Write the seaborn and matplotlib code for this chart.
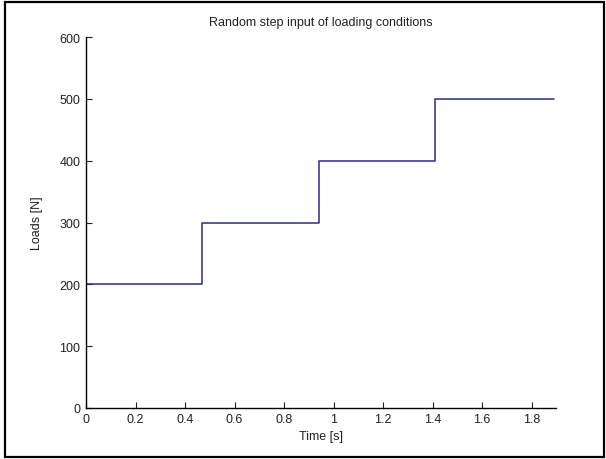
import pandas as pd
import seaborn as sns
import matplotlib.pyplot as plt
from matplotlib.patches import Rectangle

# step input data
tiempos = [0, 0.47, 0.94, 1.41, 1.89]
cargas = [200, 300, 400, 500, 500]
xticks = [0, 0.2, 0.4, 0.6, 0.8, 1, 1.2, 1.4, 1.6, 1.8]
yticks = [0, 100, 200, 300, 400, 500, 600]

sns.set_style("ticks")
plt.rcParams['font.family'] = ['Liberation Sans', 'DejaVu Sans']

df = pd.DataFrame({"t": tiempos, "carga": cargas})

fig = plt.figure(figsize=(6.06, 4.6), dpi=100)
ax = fig.add_axes([0.142, 0.111, 0.776, 0.806])

sns.lineplot(data=df, x="t", y="carga", drawstyle="steps-post",
             color="#2b2b8c", linewidth=1.1, ax=ax)

ax.set_xlim(0, 1.9)
ax.set_ylim(0, 600)
ax.set_xticks(xticks)
ax.set_xticklabels(["0", "0.2", "0.4", "0.6", "0.8", "1", "1.2", "1.4", "1.6", "1.8"])
ax.set_yticks(yticks)
ax.tick_params(direction="in", length=4, labelsize=9, colors="#222222", pad=4)
sns.despine(ax=ax)
for s in ["left", "bottom"]:
    ax.spines[s].set_color("black")
    ax.spines[s].set_linewidth(1)

ax.set_xlabel("Time [s]", fontsize=9, labelpad=3, color="#222222")
ax.set_ylabel("Loads [N]", fontsize=9, labelpad=12, color="#222222")
ax.set_title("Random step input of loading conditions", fontsize=9, pad=9, color="#222222")

# outer frame
fig.patches.append(Rectangle((0.008, 0.004), 0.988, 0.99, transform=fig.transFigure,
                             fill=False, edgecolor="black", linewidth=1.6))

fig.savefig("out.png", dpi=100)
